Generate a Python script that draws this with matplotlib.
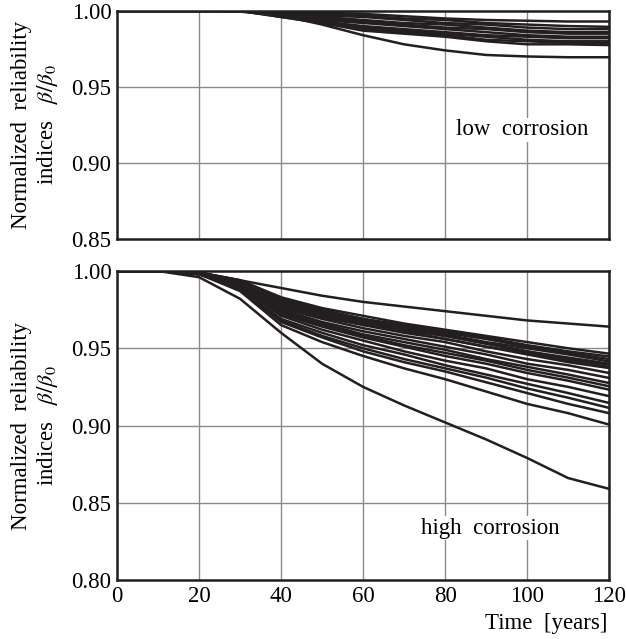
import matplotlib
matplotlib.use("Agg")
import matplotlib.pyplot as plt

plt.rcParams['font.family'] = ['Liberation Serif', 'DejaVu Serif']
plt.rcParams['mathtext.fontset'] = 'stix'

years = [0, 10, 20, 30, 40, 50, 60, 70, 80, 90, 100, 110, 120]

# Low corrosion curves (beta/beta0)
low_curves = [
    [1, 1, 1, 1, 1, 0.999, 0.998, 0.9965, 0.995, 0.994, 0.9935, 0.993, 0.993],
    [1, 1, 1, 1, 0.999, 0.998, 0.997, 0.995, 0.994, 0.992, 0.991, 0.990, 0.9895],
    [1, 1, 1, 1, 0.999, 0.997, 0.996, 0.994, 0.992, 0.991, 0.989, 0.988, 0.988],
    [1, 1, 1, 1, 0.998, 0.996, 0.994, 0.992, 0.991, 0.989, 0.987, 0.986, 0.986],
    [1, 1, 1, 1, 0.998, 0.995, 0.993, 0.991, 0.989, 0.988, 0.986, 0.985, 0.985],
    [1, 1, 1, 1, 0.997, 0.994, 0.992, 0.990, 0.988, 0.986, 0.984, 0.983, 0.983],
    [1, 1, 1, 1, 0.997, 0.993, 0.990, 0.988, 0.986, 0.984, 0.983, 0.982, 0.982],
    [1, 1, 1, 1, 0.997, 0.993, 0.989, 0.987, 0.985, 0.983, 0.981, 0.980, 0.980],
    [1, 1, 1, 1, 0.996, 0.992, 0.988, 0.986, 0.984, 0.981, 0.980, 0.979, 0.979],
    [1, 1, 1, 1, 0.996, 0.992, 0.987, 0.985, 0.983, 0.980, 0.978, 0.978, 0.9775],
    [1, 1, 1, 0.9995, 0.997, 0.991, 0.984, 0.978, 0.974, 0.971, 0.970, 0.9695, 0.9695],
]

# High corrosion curves (beta/beta0)
high_curves = [
    [1, 1, 0.999, 0.994, 0.989, 0.984, 0.980, 0.977, 0.974, 0.971, 0.968, 0.966, 0.964],
    [1, 1, 0.999, 0.994, 0.983, 0.976, 0.971, 0.966, 0.962, 0.958, 0.954, 0.950, 0.9465],
    [1, 1, 0.999, 0.994, 0.982, 0.975, 0.969, 0.965, 0.961, 0.957, 0.952, 0.948, 0.9447],
    [1, 1, 0.999, 0.993, 0.981, 0.974, 0.969, 0.964, 0.960, 0.956, 0.951, 0.947, 0.943],
    [1, 1, 0.999, 0.993, 0.980, 0.973, 0.968, 0.963, 0.959, 0.954, 0.950, 0.946, 0.9415],
    [1, 1, 0.999, 0.993, 0.979, 0.972, 0.967, 0.962, 0.958, 0.953, 0.948, 0.944, 0.940],
    [1, 1, 0.999, 0.992, 0.978, 0.971, 0.966, 0.962, 0.958, 0.953, 0.948, 0.943, 0.9394],
    [1, 1, 0.999, 0.992, 0.978, 0.971, 0.966, 0.961, 0.956, 0.951, 0.947, 0.942, 0.938],
    [1, 1, 0.999, 0.992, 0.977, 0.970, 0.965, 0.960, 0.956, 0.951, 0.946, 0.941, 0.9372],
    [1, 1, 0.999, 0.991, 0.976, 0.969, 0.963, 0.958, 0.954, 0.948, 0.943, 0.939, 0.934],
    [1, 1, 0.999, 0.991, 0.975, 0.967, 0.961, 0.956, 0.951, 0.946, 0.940, 0.936, 0.9308],
    [1, 1, 0.999, 0.991, 0.974, 0.966, 0.959, 0.954, 0.949, 0.943, 0.938, 0.933, 0.9275],
    [1, 1, 0.998, 0.990, 0.973, 0.965, 0.958, 0.952, 0.947, 0.942, 0.936, 0.931, 0.9254],
    [1, 1, 0.998, 0.990, 0.972, 0.964, 0.957, 0.951, 0.945, 0.940, 0.934, 0.929, 0.9232],
    [1, 1, 0.998, 0.990, 0.971, 0.962, 0.955, 0.948, 0.942, 0.937, 0.930, 0.925, 0.919],
    [1, 1, 0.998, 0.989, 0.969, 0.960, 0.952, 0.946, 0.939, 0.933, 0.927, 0.921, 0.9146],
    [1, 1, 0.998, 0.989, 0.968, 0.958, 0.950, 0.943, 0.937, 0.931, 0.924, 0.918, 0.9114],
    [1, 1, 0.998, 0.988, 0.967, 0.957, 0.948, 0.941, 0.935, 0.928, 0.921, 0.914, 0.908],
    [1, 1, 0.998, 0.987, 0.965, 0.954, 0.945, 0.937, 0.930, 0.922, 0.914, 0.908, 0.9006],
    [1, 1, 0.996, 0.982, 0.960, 0.940, 0.925, 0.913, 0.902, 0.891, 0.879, 0.866, 0.859],
]

x_ticks = [0, 20, 40, 60, 80, 100, 120]
low_yticks = [0.85, 0.90, 0.95, 1.00]
high_yticks = [0.80, 0.85, 0.90, 0.95, 1.00]

fig = plt.figure(figsize=(6.26, 6.39), dpi=100)
ax1 = fig.add_axes([0.187, 0.626, 0.786, 0.357])
ax2 = fig.add_axes([0.187, 0.0923, 0.786, 0.4836])

ylabel = "Normalized  reliability\nindices   $\\beta/\\beta_0$"
fs = 16.5

for ax, curves, yt, ylim in [(ax1, low_curves, low_yticks, (0.85, 1.0)),
                             (ax2, high_curves, high_yticks, (0.80, 1.0))]:
    for c in curves:
        ax.plot(years, c, color='#231f20', lw=1.8, solid_capstyle='round',
                solid_joinstyle='round', zorder=3)
    ax.set_xlim(0, 120)
    ax.set_ylim(*ylim)
    ax.set_xticks(x_ticks)
    ax.set_yticks(yt)
    ax.set_yticklabels([f"{v:.2f}" for v in yt], fontsize=fs)
    ax.grid(True, color='#8a8a8a', lw=1.0, zorder=0)
    ax.tick_params(length=0, pad=4)
    for s in ax.spines.values():
        s.set_linewidth(1.8)
        s.set_color('#231f20')
        s.set_zorder(4)
    ax.set_ylabel(ylabel, fontsize=fs, linespacing=1.2, labelpad=8)

ax1.set_xticklabels([])
ax2.set_xticklabels([str(v) for v in x_ticks], fontsize=fs)
ax2.tick_params(axis='x', pad=4)

ax1.text(98.8, 0.9217, "low  corrosion", fontsize=fs, ha='center', va='center',
         bbox=dict(facecolor='white', edgecolor='none', pad=1), zorder=5)
ax2.text(91, 0.8335, "high  corrosion", fontsize=fs, ha='center', va='center',
         bbox=dict(facecolor='white', edgecolor='none', pad=1), zorder=5)

fig.text(0.970, 0.024, "Time  [years]", fontsize=fs, ha='right', va='center')

fig.savefig("out.png", dpi=100)
